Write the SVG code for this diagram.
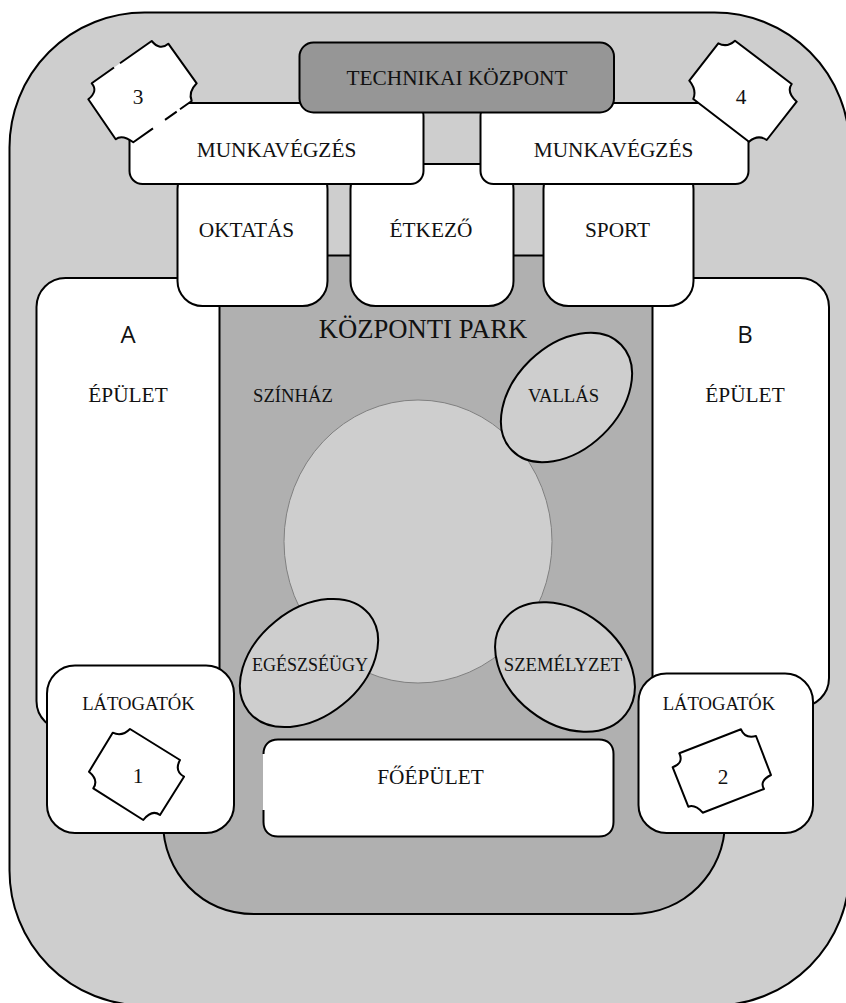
<svg xmlns="http://www.w3.org/2000/svg" width="846" height="1003" viewBox="0 0 846 1003">
<style>
.o{stroke:#000;stroke-width:2;stroke-linejoin:round}
.w{fill:#fff}
.g{fill:#cecece}
.t{font-family:"Liberation Serif","Times New Roman",serif;font-size:21.33px;fill:#111;text-anchor:middle}
.s{font-size:18.67px}
.c{font-family:"Open Sans","Liberation Sans",sans-serif;font-size:24px;fill:#111;text-anchor:middle}
</style>
<rect width="846" height="1003" fill="#fff"/>
<g id="campus"><rect class="o g" x="9.500" y="12.500" width="840" height="993" rx="135" ry="135"/></g>
<g id="park">
<path class="o" fill="#b0b0b0" d="M200 255.500H690V300H725V822C725 872 685 914 632 914H254C201 914 163 872 163 822V300H200Z"/>
<text class="t" x="423" y="338" style="font-size:26.67px">KÖZPONTI PARK</text>
<text class="t s" x="293" y="402">SZÍNHÁZ</text>
</g>
<g id="theatre"><ellipse cx="418" cy="541.500" rx="134" ry="141.500" fill="#cecece" stroke="#808080" stroke-width="1"/></g>
<g id="building-a"><rect class="o w" x="36.500" y="278" width="183" height="452" rx="29"/>
<text class="c" x="128" y="343">A</text><text class="t" x="128" y="402">ÉPÜLET</text></g>
<g id="building-b"><rect class="o w" x="652.500" y="278" width="176.500" height="429" rx="29"/>
<text class="c" x="745" y="343">B</text><text class="t" x="745" y="402">ÉPÜLET</text></g>
<g id="etkezo"><rect class="o w" x="350.500" y="164" width="163" height="142" rx="25"/>
<text class="t" x="431" y="237">ÉTKEZŐ</text></g>
<g id="oktatas"><rect class="o w" x="177.500" y="164" width="150" height="142" rx="25"/>
<text class="t" x="246.500" y="237">OKTATÁS</text></g>
<g id="sport"><rect class="o w" x="543.500" y="164" width="150" height="142" rx="25"/>
<text class="t" x="617.500" y="237">SPORT</text></g>
<g id="munka-1"><rect class="o w" x="129.500" y="103" width="294" height="81" rx="13"/>
<text class="t" x="276.500" y="157">MUNKAVÉGZÉS</text></g>
<g id="munka-2"><rect class="o w" x="480.500" y="103" width="268" height="81" rx="13"/>
<text class="t" x="613.500" y="157">MUNKAVÉGZÉS</text></g>
<g id="tech"><rect class="o" fill="#969696" x="299.500" y="42.500" width="314.500" height="70" rx="14"/>
<text class="t" x="457" y="85">TECHNIKAI KÖZPONT</text></g>
<g id="ticket-3">
<path class="w" d="M151.700 41Q160 51 168.300 43.700L196.700 83.300Q188 92 191.700 101L133.300 142.300Q122 134 115.700 139.300L88.300 99.300Q98.500 91 91.700 83.300Z"/>
<path fill="none" class="o" d="M114 67.500L91.700 83.300Q98.500 91 88.300 99.300L115.700 139.300Q122 134 133.300 142.300L153 128.400M165 119.900L176.700 111.600M180 109.300L191.700 101Q188 92 196.700 83.300L168.300 43.700Q160 51 151.700 41L120 63.300"/>
<text class="t" x="138" y="104">3</text></g>
<g id="ticket-4">
<path class="o w" d="M735 40.700L791.700 84Q786 92 796.700 101.700L766.700 140Q758 134 749 141.700L693.300 99Q697 90 689.300 80.700L718.300 43.300Q727 48 735 40.700Z"/>
<text class="t" x="741" y="104">4</text></g>
<g id="egeszsegugy"><ellipse class="o g" cx="309" cy="663" rx="77.500" ry="53.500" transform="rotate(-39 309 663)"/>
<text class="t" x="310" y="671" style="font-size:18px">EGÉSZSÉÜGY</text></g>
<g id="szemelyzet"><ellipse class="o g" cx="565" cy="667" rx="77" ry="56" transform="rotate(38 565 667)"/>
<text class="t s" x="563" y="671">SZEMÉLYZET</text></g>
<g id="vallas"><ellipse class="o g" cx="566.500" cy="397.500" rx="76" ry="52" transform="rotate(-44 566.500 397.500)"/>
<text class="t s" x="563.500" y="402">VALLÁS</text></g>
<g id="foepulet">
<rect class="w" x="263" y="739" width="351" height="98" rx="15"/>
<path class="o" fill="none" d="M263.500 754C263.500 745 269 739.500 278 739.500H599C608 739.500 613.500 745 613.500 754V822C613.500 831 608 836.500 599 836.500H278C269 836.500 263.500 831 263.500 822V810"/>
<text class="t" x="430.500" y="784">FŐÉPÜLET</text></g>
<g id="latogatok-1"><rect class="o w" x="47" y="665.500" width="187" height="167.500" rx="28"/>
<text class="t s" x="138.500" y="710">LÁTOGATÓK</text>
<path class="o w" d="M130 729L180 760Q174 771 184 776.700L160 815Q152 809 143.300 820L93.300 788.300Q99 780 89 771.700L112.700 732.700Q122 737 130 729Z"/>
<text class="t" x="138" y="783">1</text></g>
<g id="latogatok-2"><rect class="o w" x="638.500" y="673.500" width="174.500" height="159.500" rx="28"/>
<text class="t s" x="719" y="710">LÁTOGATÓK</text>
<path class="o w" d="M741 729.300Q745 739 756 736L771 775Q759 781 764 789L702.700 812.700Q695 804 688.300 806.700L672.700 767.300Q684 763 679.300 753.300Z"/>
<text class="t" x="723" y="784">2</text></g>
<g id="connectors"></g>
</svg>
